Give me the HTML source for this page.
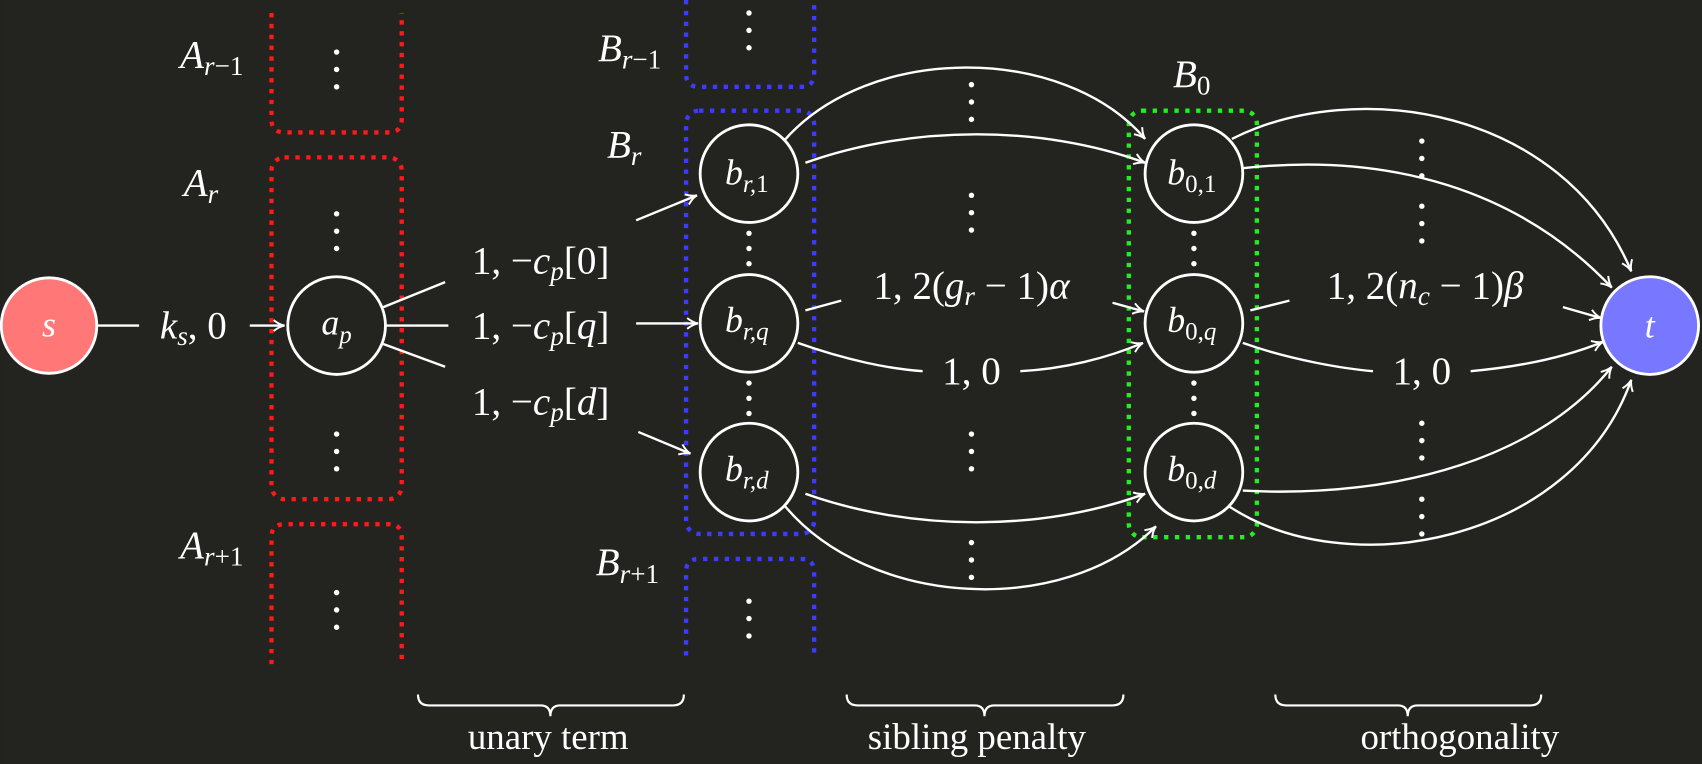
<!DOCTYPE html>
<html><head><meta charset="utf-8"><style>
html,body{margin:0;padding:0;background:#23231f;}
svg{display:block;}
text{font-family:"Liberation Serif",serif;fill:#fff;}
.m{font-style:italic;}
</style></head><body>
<svg width="1702" height="764" viewBox="0 0 1568 704" xmlns="http://www.w3.org/2000/svg">
<defs>
<marker id="ar" viewBox="0 0 12 12" refX="11" refY="6" markerWidth="12" markerHeight="12" markerUnits="userSpaceOnUse" orient="auto">
<path d="M1,1 Q6,5 11,6 Q6,7 1,11" fill="none" stroke="#fff" stroke-width="1.8"/>
</marker>
</defs>
<rect width="1568" height="704" fill="#23231f"/>
<g fill="none" stroke-width="4" stroke-dasharray="4 6">
<path d="M250,12 V110 Q250,122 262,122 H358 Q370,122 370,110 V12" stroke="#ff1a1a"/>
<rect x="250" y="145" width="120" height="315" rx="12" stroke="#ff1a1a"/>
<path d="M250,612 V495 Q250,483 262,483 H358 Q370,483 370,495 V612" stroke="#ff1a1a"/>
<path d="M632,0 V68 Q632,80 644,80 H738 Q750,80 750,68 V0" stroke="#3c3cff"/>
<rect x="632" y="102" width="118" height="390" rx="12" stroke="#3c3cff"/>
<path d="M632,604 V527 Q632,515 644,515 H738 Q750,515 750,527 V604" stroke="#3c3cff"/>
<rect x="1040" y="102" width="118" height="393" rx="12" stroke="#22ee22"/>
</g>
<g fill="#fff">
<circle cx="310" cy="48" r="2.5"/><circle cx="310" cy="64" r="2.5"/><circle cx="310" cy="80" r="2.5"/>
<circle cx="310" cy="197" r="2.5"/><circle cx="310" cy="213" r="2.5"/><circle cx="310" cy="229" r="2.5"/>
<circle cx="310" cy="400" r="2.5"/><circle cx="310" cy="416" r="2.5"/><circle cx="310" cy="432" r="2.5"/>
<circle cx="310" cy="546" r="2.5"/><circle cx="310" cy="562" r="2.5"/><circle cx="310" cy="578" r="2.5"/>
<circle cx="690" cy="12" r="2.5"/><circle cx="690" cy="28" r="2.5"/><circle cx="690" cy="44" r="2.5"/>
<circle cx="690" cy="554" r="2.5"/><circle cx="690" cy="570" r="2.5"/><circle cx="690" cy="586" r="2.5"/>
<circle cx="690" cy="215" r="2.5"/><circle cx="690" cy="229" r="2.5"/><circle cx="690" cy="243" r="2.5"/>
<circle cx="690" cy="353" r="2.5"/><circle cx="690" cy="367" r="2.5"/><circle cx="690" cy="381" r="2.5"/>
<circle cx="1100" cy="215" r="2.5"/><circle cx="1100" cy="229" r="2.5"/><circle cx="1100" cy="243" r="2.5"/>
<circle cx="1100" cy="353" r="2.5"/><circle cx="1100" cy="367" r="2.5"/><circle cx="1100" cy="381" r="2.5"/>
<circle cx="895" cy="78" r="2.5"/><circle cx="895" cy="94" r="2.5"/><circle cx="895" cy="110" r="2.5"/>
<circle cx="895" cy="180" r="2.5"/><circle cx="895" cy="196" r="2.5"/><circle cx="895" cy="212" r="2.5"/>
<circle cx="895" cy="400" r="2.5"/><circle cx="895" cy="416" r="2.5"/><circle cx="895" cy="432" r="2.5"/>
<circle cx="895" cy="500" r="2.5"/><circle cx="895" cy="516" r="2.5"/><circle cx="895" cy="532" r="2.5"/>
<circle cx="1310" cy="130" r="2.5"/><circle cx="1310" cy="146" r="2.5"/><circle cx="1310" cy="162" r="2.5"/>
<circle cx="1310" cy="190" r="2.5"/><circle cx="1310" cy="206" r="2.5"/><circle cx="1310" cy="222" r="2.5"/>
<circle cx="1310" cy="390" r="2.5"/><circle cx="1310" cy="406" r="2.5"/><circle cx="1310" cy="422" r="2.5"/>
<circle cx="1310" cy="460" r="2.5"/><circle cx="1310" cy="476" r="2.5"/><circle cx="1310" cy="492" r="2.5"/>
</g>
<g fill="none" stroke="#fff" stroke-width="2.2">
<path d="M90,300 H128"/>
<path d="M230,300 H262" marker-end="url(#ar)"/>
<path d="M353,283 L410,260"/>
<path d="M355,300 H413"/>
<path d="M353,317 L410,338"/>
<path d="M586,203 L642,180" marker-end="url(#ar)"/>
<path d="M586,298 H643" marker-end="url(#ar)"/>
<path d="M588,398 L636,418" marker-end="url(#ar)"/>
<path d="M722,130 C800,40 980,40 1055,128" marker-end="url(#ar)"/>
<path d="M742,150 C840,115 960,115 1055,150" marker-end="url(#ar)"/>
<path d="M742,286 L775,277"/>
<path d="M1025,279 L1054,287" marker-end="url(#ar)"/>
<path d="M735,316 C780,332 820,340 850,342 M940,342 C980,340 1020,330 1053,316" marker-end="url(#ar)"/>
<path d="M742,455 C840,490 960,490 1055,455" marker-end="url(#ar)"/>
<path d="M722,465 C800,560 980,570 1065,485" marker-end="url(#ar)"/>
<path d="M1135,128 C1250,70 1440,100 1503,250" marker-end="url(#ar)"/>
<path d="M1145,155 C1280,140 1400,175 1485,265" marker-end="url(#ar)"/>
<path d="M1152,286 L1188,277"/>
<path d="M1440,283 L1475,293" marker-end="url(#ar)"/>
<path d="M1145,316 C1190,332 1240,340 1265,342 M1355,342 C1400,338 1440,330 1477,315" marker-end="url(#ar)"/>
<path d="M1145,452 C1290,460 1420,420 1485,338" marker-end="url(#ar)"/>
<path d="M1130,465 C1240,540 1450,500 1503,350" marker-end="url(#ar)"/>
</g>
<g stroke="#fff" stroke-width="2.6">
<circle cx="45" cy="300" r="44" fill="#ff7777"/>
<circle cx="310" cy="300" r="45" fill="#23231f"/>
<circle cx="690" cy="160" r="45" fill="#23231f"/>
<circle cx="690" cy="298" r="45" fill="#23231f"/>
<circle cx="690" cy="435" r="45" fill="#23231f"/>
<circle cx="1100" cy="160" r="45" fill="#23231f"/>
<circle cx="1100" cy="298" r="45" fill="#23231f"/>
<circle cx="1100" cy="435" r="45" fill="#23231f"/>
<circle cx="1520" cy="300" r="45" fill="#7777ff"/>
</g>
<g font-size="33" text-anchor="middle">
<text class="m" x="45" y="310">s</text>
<text class="m" x="310" y="308">a<tspan font-size="23" dy="8">p</tspan></text>
<text class="m" x="688" y="170">b<tspan font-size="23" dy="7">r,</tspan><tspan font-style="normal" font-size="23">1</tspan></text>
<text class="m" x="688" y="306">b<tspan font-size="23" dy="7">r,q</tspan></text>
<text class="m" x="688" y="443">b<tspan font-size="23" dy="7">r,d</tspan></text>
<text class="m" x="1098" y="170">b<tspan font-style="normal" font-size="23" dy="7">0,1</tspan></text>
<text class="m" x="1098" y="306">b<tspan font-style="normal" font-size="23" dy="7">0,</tspan><tspan font-size="23">q</tspan></text>
<text class="m" x="1098" y="443">b<tspan font-style="normal" font-size="23" dy="7">0,</tspan><tspan font-size="23">d</tspan></text>
<text class="m" x="1520" y="311">t</text>
</g>
<g font-size="36" text-anchor="middle">
<text x="178" y="312"><tspan class="m">k</tspan><tspan class="m" font-size="25" dy="6">s</tspan><tspan dy="-6">, 0</tspan></text>
<text x="498" y="252">1, −<tspan class="m">c</tspan><tspan class="m" font-size="25" dy="6">p</tspan><tspan dy="-6">[0]</tspan></text>
<text x="498" y="312">1, −<tspan class="m">c</tspan><tspan class="m" font-size="25" dy="6">p</tspan><tspan dy="-6">[</tspan><tspan class="m">q</tspan>]</text>
<text x="498" y="382">1, −<tspan class="m">c</tspan><tspan class="m" font-size="25" dy="6">p</tspan><tspan dy="-6">[</tspan><tspan class="m">d</tspan>]</text>
<text x="895" y="275">1, 2(<tspan class="m">g</tspan><tspan class="m" font-size="25" dy="6">r</tspan><tspan dy="-6"> − 1)</tspan><tspan class="m">α</tspan></text>
<text x="895" y="354">1, 0</text>
<text x="1313" y="275">1, 2(<tspan class="m">n</tspan><tspan class="m" font-size="25" dy="6">c</tspan><tspan dy="-6"> − 1)</tspan><tspan class="m">β</tspan></text>
<text x="1310" y="354">1, 0</text>
<text class="m" x="195" y="62">A<tspan font-size="25" dy="7">r</tspan><tspan font-style="normal" font-size="25">−1</tspan></text>
<text class="m" x="185" y="180">A<tspan font-size="25" dy="7">r</tspan></text>
<text class="m" x="195" y="514">A<tspan font-size="25" dy="7">r</tspan><tspan font-style="normal" font-size="25">+1</tspan></text>
<text class="m" x="580" y="56">B<tspan font-size="25" dy="7">r</tspan><tspan font-style="normal" font-size="25">−1</tspan></text>
<text class="m" x="575" y="145">B<tspan font-size="25" dy="7">r</tspan></text>
<text class="m" x="578" y="530">B<tspan font-size="25" dy="7">r</tspan><tspan font-style="normal" font-size="25">+1</tspan></text>
<text class="m" x="1098" y="80">B<tspan font-style="normal" font-size="25" dy="7">0</tspan></text>
</g>
<g fill="none" stroke="#fff" stroke-width="2">
<path d="M385,640 Q385,650 395,650 H498 Q507,650 507,660 Q507,650 516,650 H620 Q630,650 630,640"/>
<path d="M780,640 Q780,650 790,650 H898 Q907,650 907,660 Q907,650 916,650 H1025 Q1035,650 1035,640"/>
<path d="M1175,640 Q1175,650 1185,650 H1288 Q1297,650 1297,660 Q1297,650 1306,650 H1410 Q1420,650 1420,640"/>
</g>
<g font-size="34" text-anchor="middle">
<text x="505" y="690">unary term</text>
<text x="900" y="690">sibling penalty</text>
<text x="1345" y="690">orthogonality</text>
</g>
</svg>
</body></html>
